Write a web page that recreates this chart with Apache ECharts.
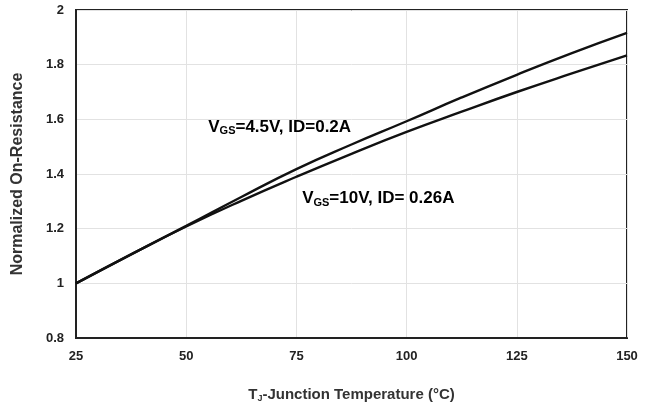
<!DOCTYPE html>
<html>
<head>
<meta charset="utf-8">
<script src="https://cdn.jsdelivr.net/npm/echarts@6/dist/echarts.min.js"></script>
<style>
  html, body { margin: 0; padding: 0; background: #fff; }
  #chart { width: 653px; height: 412px; }
</style>
</head>
<body>
<div id="chart"></div>
<script>
// 结温 (°C)
const temps = [25, 37.5, 50, 62.5, 75, 87.5, 100, 112.5, 125, 137.5, 150];
// VGS=4.5V, ID=0.2A
const res45 = [1.0, 1.106, 1.21, 1.316, 1.418, 1.508, 1.593, 1.68, 1.763, 1.842, 1.916];
// VGS=10V, ID=0.26A
const res10 = [1.0, 1.106, 1.208, 1.302, 1.39, 1.474, 1.554, 1.628, 1.70, 1.768, 1.834];
// 标注位置 (数据坐标)
const labelAt45 = [55, 1.572];
const labelAt10 = [76.3, 1.31];

const font = "'Liberation Sans', Arial, sans-serif";

function pairs(xs, ys) {
  return xs.map((x, i) => [x, ys[i]]);
}

const chart = echarts.init(document.getElementById('chart'), null, { renderer: 'canvas' });

const option = {
  animation: false,
  grid: {
    left: 76, right: 26, top: 10, bottom: 74,
    show: true,
    borderColor: '#222',
    borderWidth: 2
  },
  xAxis: {
    type: 'value',
    min: 25, max: 150, interval: 25,
    name: '{t|T}{s|J}{t|-Junction Temperature (°C)}',
    nameLocation: 'middle',
    nameGap: 49,
    nameTextStyle: {
      rich: {
        t: { fontFamily: font, fontSize: 15, fontWeight: 'bold', color: '#333' },
        s: { fontFamily: font, fontSize: 9, fontWeight: 'bold', color: '#333', padding: [7, 0, 0, 0] }
      }
    },
    axisLine: { show: true, lineStyle: { color: '#222', width: 2 } },
    axisTick: { show: false },
    axisLabel: { margin: 12, fontFamily: font, fontSize: 13, fontWeight: 'bold', color: '#222' },
    splitLine: { show: true, lineStyle: { color: '#e2e2e2', width: 1 } }
  },
  yAxis: {
    type: 'value',
    min: 0.8, max: 2, interval: 0.2,
    name: 'Normalized On-Resistance',
    nameLocation: 'middle',
    nameGap: 50,
    nameTextStyle: { fontFamily: font, fontSize: 16, fontWeight: 'bold', color: '#333' },
    axisLine: { show: true, lineStyle: { color: '#222', width: 2 } },
    axisTick: { show: false },
    axisLabel: {
      margin: 12, fontFamily: font, fontSize: 13, fontWeight: 'bold', color: '#222',
      formatter: v => String(Math.round(v * 10) / 10)
    },
    splitLine: { show: true, lineStyle: { color: '#e2e2e2', width: 1 } }
  },
  series: [
    {
      name: 'VGS=4.5V',
      type: 'line',
      data: pairs(temps, res45),
      smooth: true,
      showSymbol: false,
      lineStyle: { color: '#111', width: 2.4 }
    },
    {
      name: 'VGS=10V',
      type: 'line',
      data: pairs(temps, res10),
      smooth: true,
      showSymbol: false,
      lineStyle: { color: '#111', width: 2.4 }
    }
  ]
};
chart.setOption(option);

// 曲线标注
const rich = {
  t: { fontFamily: font, fontSize: 17, fontWeight: 'bold', color: '#111' },
  s: { fontFamily: font, fontSize: 11, fontWeight: 'bold', color: '#111', padding: [8, 0, 0, 0] }
};
const p45 = chart.convertToPixel({ gridIndex: 0 }, labelAt45);
const p10 = chart.convertToPixel({ gridIndex: 0 }, labelAt10);
chart.setOption({
  graphic: [
    {
      type: 'text', x: p45[0], y: p45[1],
      style: { text: '{t|V}{s|GS}{t|=4.5V, ID=0.2A}', rich: rich, verticalAlign: 'middle' }
    },
    {
      type: 'text', x: p10[0], y: p10[1],
      style: { text: '{t|V}{s|GS}{t|=10V, ID= 0.26A}', rich: rich, verticalAlign: 'middle' }
    }
  ]
});
</script>
</body>
</html>
